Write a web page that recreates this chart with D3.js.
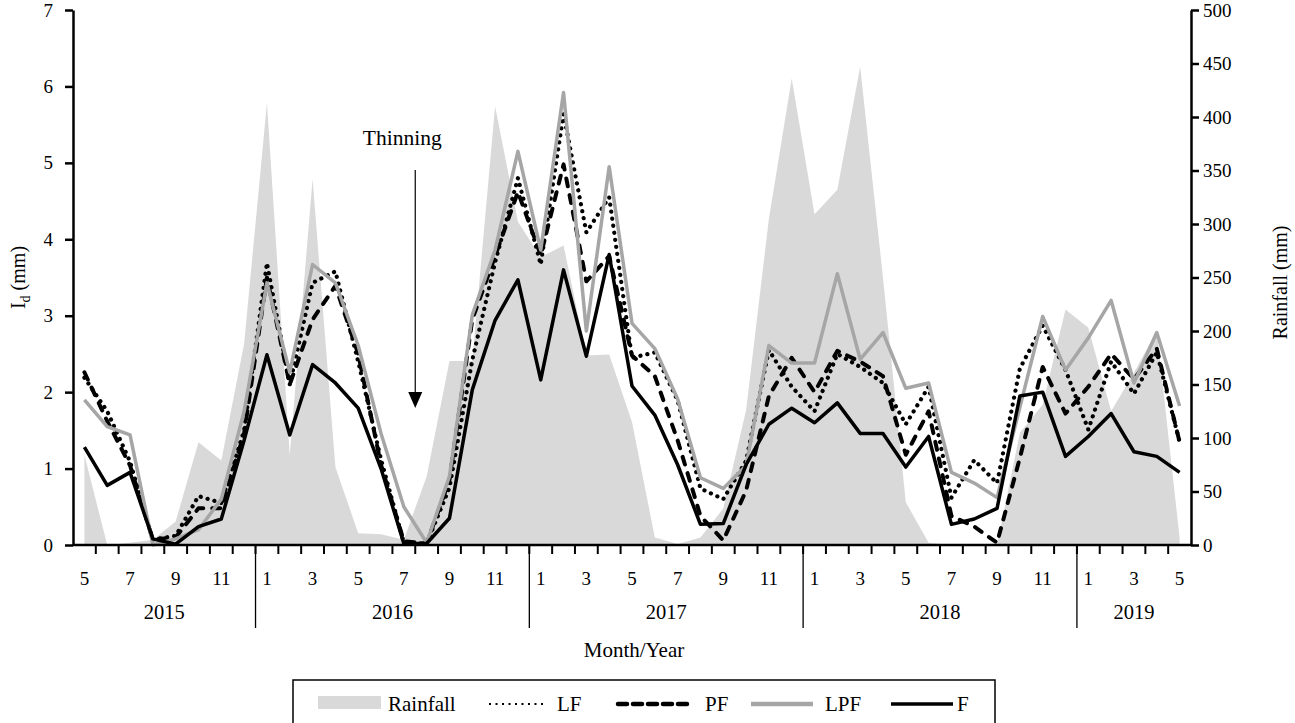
<!DOCTYPE html>
<html>
<head>
<meta charset="utf-8">
<script src="https://cdn.jsdelivr.net/npm/d3@7"></script>
<style>
  body { margin: 0; background: #fff; }
  text { font-family: "Liberation Serif", "Times New Roman", serif; fill: #000; }
</style>
</head>
<body>
<div id="chart"></div>
<script>
// months May 2015 .. May 2019
const months = [
  '2015-05','2015-06','2015-07','2015-08','2015-09','2015-10','2015-11','2015-12',
  '2016-01','2016-02','2016-03','2016-04','2016-05','2016-06','2016-07','2016-08','2016-09','2016-10','2016-11','2016-12',
  '2017-01','2017-02','2017-03','2017-04','2017-05','2017-06','2017-07','2017-08','2017-09','2017-10','2017-11','2017-12',
  '2018-01','2018-02','2018-03','2018-04','2018-05','2018-06','2018-07','2018-08','2018-09','2018-10','2018-11','2018-12',
  '2019-01','2019-02','2019-03','2019-04','2019-05'
]
const years = ['2015', '2016', '2017', '2018', '2019']
const leftTicks = [0, 1, 2, 3, 4, 5, 6, 7]
const rightTicks = [0, 50, 100, 150, 200, 250, 300, 350, 400, 450, 500]

const rainfall = [84, 0, 2, 5, 22, 96, 79, 188, 413, 84, 342, 73, 11, 10, 5, 64, 172, 172, 410, 302,
  269, 280, 177, 178, 115, 7, 1, 7, 34, 126, 305, 436, 309, 332, 447, 250, 40, 2, 0, 0, 0, 105, 131, 220,
  203, 125, 161, 200, 7]
const LF = [2.19, 1.75, 1.09, 0.07, 0.12, 0.64, 0.55, 1.5, 3.69, 2.1, 3.43, 3.58, 2.4, 1.12, 0.03, 0.02, 0.75, 2.42, 3.7, 4.8,
  3.67, 5.64, 4.09, 4.55, 2.45, 2.52, 1.89, 0.74, 0.6, 1.1, 2.55, 2.07, 1.75, 2.5, 2.33, 2.12, 1.58, 2.07, 0.62, 1.11, 0.81, 2.31, 2.87, 2.29,
  1.51, 2.4, 1.98, 2.52, 1.35]
const PF = [2.26, 1.62, 1.04, 0.07, 0.1, 0.48, 0.48, 1.46, 3.5, 2.1, 2.95, 3.39, 2.5, 1.05, 0.05, 0.02, 0.85, 2.95, 3.78, 4.62,
  3.79, 4.98, 3.45, 3.78, 2.48, 2.21, 1.37, 0.38, 0.06, 0.71, 1.95, 2.45, 2.0, 2.54, 2.4, 2.21, 1.18, 1.75, 0.38, 0.24, 0.03, 1.14, 2.33, 1.72,
  2.07, 2.5, 2.17, 2.57, 1.35]
const LPF = [1.9, 1.55, 1.44, 0.0, 0.08, 0.2, 0.6, 1.75, 3.43, 2.26, 3.67, 3.43, 2.61, 1.46, 0.5, 0.03, 0.9, 3.01, 3.86, 5.15,
  3.86, 5.92, 2.8, 4.95, 2.9, 2.57, 1.91, 0.88, 0.74, 1.04, 2.61, 2.38, 2.38, 3.55, 2.43, 2.78, 2.05, 2.12, 0.95, 0.81, 0.62, 1.8, 2.99, 2.29,
  2.71, 3.2, 2.12, 2.78, 1.82]
const F = [1.28, 0.78, 0.95, 0.08, 0.01, 0.24, 0.34, 1.37, 2.49, 1.44, 2.36, 2.12, 1.79, 1.0, 0.02, 0.02, 0.35, 2.03, 2.94, 3.47,
  2.16, 3.6, 2.47, 3.8, 2.08, 1.7, 1.05, 0.27, 0.28, 1.05, 1.58, 1.79, 1.6, 1.86, 1.46, 1.46, 1.02, 1.42, 0.27, 0.34, 0.48, 1.95, 2.0, 1.16,
  1.42, 1.72, 1.22, 1.16, 0.95]

const width = 1295
const height = 723
const plotLeft = 73, plotRight = 1191, plotTop = 10, plotBottom = 545

const svg = d3.select('#chart').append('svg')
  .attr('width', width)
  .attr('height', height)

const x = d3.scaleBand().domain(months).range([plotLeft, plotRight])
const cx = m => x(m) + x.bandwidth() / 2
const y = d3.scaleLinear().domain([0, 7]).range([plotBottom, plotTop])
const yr = d3.scaleLinear().domain([0, 500]).range([plotBottom, plotTop])

// rainfall area
const area = d3.area()
  .x((d, i) => cx(months[i]))
  .y0(yr(0))
  .y1(d => yr(d))
svg.append('path')
  .datum(rainfall)
  .attr('fill', '#d9d9d9')
  .attr('d', area)

const line = d3.line()
  .x((d, i) => cx(months[i]))
  .y(d => y(d))

const series = [
  { name: 'LF', values: LF, color: '#000', width: 4.2, dash: '0.1 7', cap: 'round' },
  { name: 'PF', values: PF, color: '#000', width: 4, dash: '8 9', cap: 'round' },
  { name: 'LPF', values: LPF, color: '#a6a6a6', width: 3.5, dash: null, cap: 'butt' },
  { name: 'F', values: F, color: '#000', width: 3.5, dash: null, cap: 'butt' }
]

series.forEach(s => {
  svg.append('path')
    .datum(s.values)
    .attr('fill', 'none')
    .attr('stroke', s.color)
    .attr('stroke-width', s.width)
    .attr('stroke-dasharray', s.dash)
    .attr('stroke-linecap', s.cap)
    .attr('stroke-linejoin', 'round')
    .attr('d', line)
})

// left axis
const gl = svg.append('g')
  .attr('transform', `translate(${plotLeft},0)`)
  .call(d3.axisLeft(y).tickValues(leftTicks).tickFormat(d3.format('d'))
    .tickSize(8).tickSizeOuter(0).tickPadding(12))

// right axis
const gr = svg.append('g')
  .attr('transform', `translate(${plotRight},0)`)
  .call(d3.axisRight(yr).tickValues(rightTicks).tickFormat(d3.format('d'))
    .tickSize(8).tickSizeOuter(0).tickPadding(4))

;[gl, gr].forEach(g => {
  g.selectAll('text').style('font-size', '19px').style('font-family', '"Liberation Serif", serif')
  g.select('.domain').attr('stroke-width', 2.5)
  g.selectAll('.tick line').attr('stroke-width', 2.5)
})

// bottom axis line
svg.append('line')
  .attr('x1', plotLeft).attr('x2', plotRight)
  .attr('y1', plotBottom).attr('y2', plotBottom)
  .attr('stroke', '#000').attr('stroke-width', 2.5)

// month boundary ticks
svg.append('g').selectAll('line')
  .data(months.slice(1))
  .join('line')
  .attr('x1', d => x(d)).attr('x2', d => x(d))
  .attr('y1', plotBottom).attr('y2', plotBottom + 9)
  .attr('stroke', '#000').attr('stroke-width', 2)

// month labels (odd months)
svg.append('g').selectAll('text')
  .data(months.filter(m => +m.slice(5) % 2 === 1))
  .join('text')
  .attr('x', d => cx(d))
  .attr('y', 585)
  .attr('text-anchor', 'middle')
  .style('font-size', '19px')
  .text(d => +d.slice(5))

// year dividers and labels
const yearStart = years.map(yy => months.find(m => m.startsWith(yy)))
svg.append('g').selectAll('line')
  .data(yearStart.slice(1))
  .join('line')
  .attr('x1', d => x(d)).attr('x2', d => x(d))
  .attr('y1', plotBottom).attr('y2', 628)
  .attr('stroke', '#000').attr('stroke-width', 1.3)

svg.append('g').selectAll('text')
  .data(years)
  .join('text')
  .attr('x', yy => {
    const ms = months.filter(m => m.startsWith(yy))
    return (x(ms[0]) + x(ms[ms.length - 1]) + x.bandwidth()) / 2
  })
  .attr('y', 619)
  .attr('text-anchor', 'middle')
  .style('font-size', '20.5px')
  .text(d => d)

svg.append('text')
  .attr('x', (plotLeft + plotRight) / 2 + 2)
  .attr('y', 657)
  .attr('text-anchor', 'middle')
  .style('font-size', '21px')
  .text('Month/Year')

// axis titles
const lt = svg.append('text')
  .attr('transform', `translate(25,${(plotTop + plotBottom) / 2}) rotate(-90)`)
  .attr('text-anchor', 'middle')
  .style('font-size', '20px')
lt.append('tspan').text('I')
lt.append('tspan').attr('dy', 5).style('font-size', '14px').text('d')
lt.append('tspan').attr('dy', -5).text(' (mm)')

svg.append('text')
  .attr('transform', `translate(1287,${(plotTop + plotBottom) / 2 + 5}) rotate(-90)`)
  .attr('text-anchor', 'middle')
  .style('font-size', '20px')
  .text('Rainfall (mm)')

// thinning annotation
const thinX = x('2016-07') + x.bandwidth()
svg.append('text')
  .attr('x', thinX - 13)
  .attr('y', 145)
  .attr('text-anchor', 'middle')
  .style('font-size', '21.5px')
  .text('Thinning')
svg.append('line')
  .attr('x1', thinX).attr('x2', thinX)
  .attr('y1', 170).attr('y2', 395)
  .attr('stroke', '#000').attr('stroke-width', 1.2)
svg.append('path')
  .attr('d', `M${thinX - 7},392 L${thinX + 7},392 L${thinX},408 Z`)
  .attr('fill', '#000')

// legend
const legend = svg.append('g')
legend.append('rect')
  .attr('x', 293).attr('y', 680)
  .attr('width', 702).attr('height', 60)
  .attr('fill', 'none').attr('stroke', '#000').attr('stroke-width', 1.5)

legend.append('rect')
  .attr('x', 318).attr('y', 696).attr('width', 63).attr('height', 13)
  .attr('fill', '#d9d9d9')
legend.append('text').attr('x', 388).attr('y', 711).style('font-size', '21px').text('Rainfall')

const legendItems = [
  { s: series[0], x1: 489, x2: 545, tx: 557, w: 2, dash: '2 4.5', cap: 'butt' },
  { s: series[1], x1: 618, x2: 690, tx: 705, w: 4.5, dash: '9 6', cap: 'round' },
  { s: series[2], x1: 751, x2: 813, tx: 825, w: 4.5, dash: null, cap: 'butt' },
  { s: series[3], x1: 891, x2: 953, tx: 957, w: 3.5, dash: null, cap: 'butt' }
]
legendItems.forEach(it => {
  legend.append('line')
    .attr('x1', it.x1).attr('x2', it.x2)
    .attr('y1', 704).attr('y2', 704)
    .attr('stroke', it.s.color)
    .attr('stroke-width', it.w)
    .attr('stroke-dasharray', it.dash)
    .attr('stroke-linecap', it.cap)
  legend.append('text').attr('x', it.tx).attr('y', 711).style('font-size', '21px').text(it.s.name)
})
</script>
</body>
</html>
